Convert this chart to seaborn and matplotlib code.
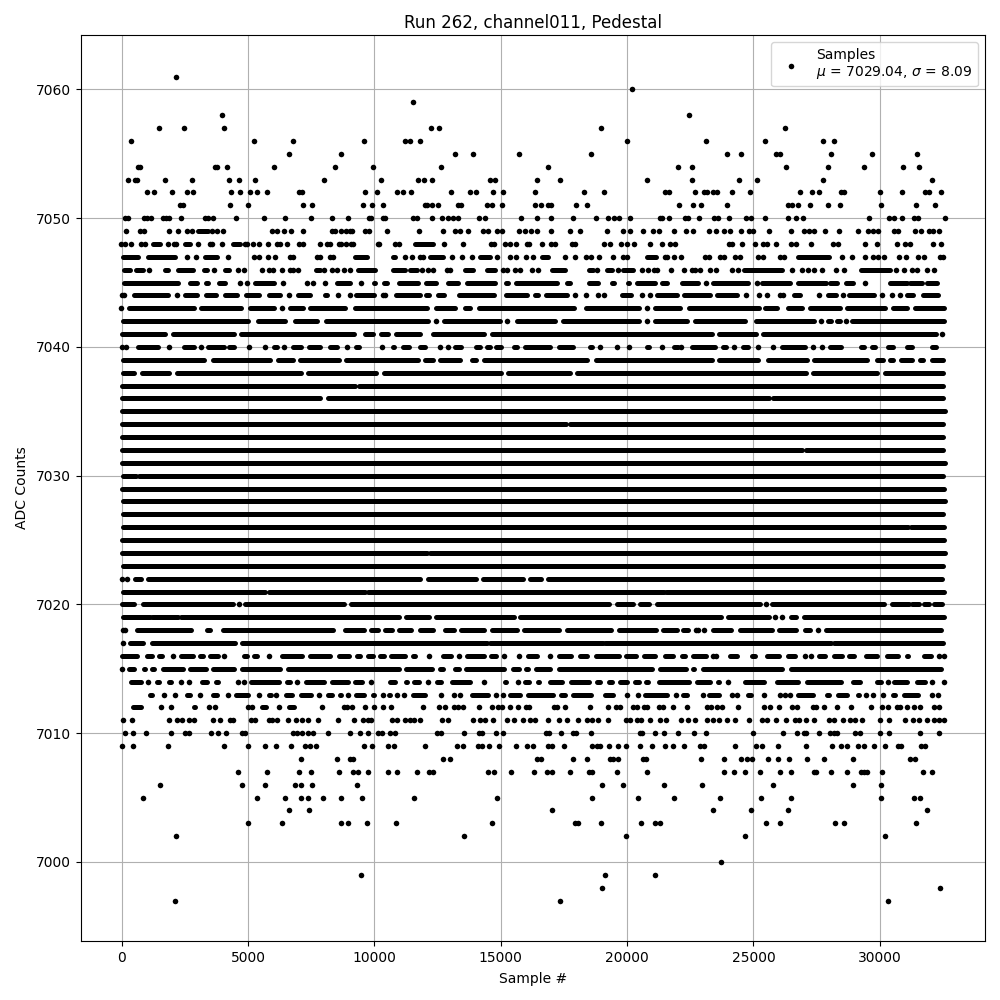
import matplotlib
matplotlib.use('Agg')
import matplotlib.pyplot as plt
import pandas as pd
import seaborn as sns

# sample numbers per ADC level
# an int is one sample, a tuple is a stretch where the dots merge into a bar
L7061 = [2191]
L7060 = [20248]
L7059 = [11576]
L7058 = [4012, 22500]
L7057 = [1518, 2508, 4092, 12289, 12606, 19021, 26268]
L7056 = [409, 5280, 6824, 9636, 11246, 11457, 11853, 20050, 23139, 25476, 27786, 28208]
L7055 = [6666, 8725, 13239, 13952, 15774, 18625, 23971, 24525, 25911, 26070, 28089, 29713, 31495]
L7054 = [686, 778, 3722, 3814, 4210, 6072, 8487, 9992, 12685, 16922, 22030, 22585, 26307, 27970,
         29396, 30940, 31574]
L7053 = [290, 554, 646, 1755, 2824, 4290, 4686, 5319, 8052, 10309, 11774, 12012, 12328, 14625, 14823,
         16486, 17397, 20842, 22585, 24446, 25159, 27786, 32089]
L7052 = [1042, 1320, 2032, 2626, 2864, 4369, 4725, 5121, 5398, 5794, 7062, 7154, 9675, 10150, 10942,
         11180, 11497, 13081, 13833, 14071, 14744, 15140, 16407, 18348, 19140, 21516, 21674, 22704,
         23060, 23179, 23416, 23575, 24169, 24882, 26862, 27337, 27614, 28485, 28604, 30030, 30901,
         31812, 31970, 32445]
L7051 = [2349, 2442, 4329, 5042, 7220, 7576, 9596, 9952, 10388, 12038, 12130, 12328, 12566, 13358, 13450,
         14480, 14678, 15100, 16407, 16618, 16922, 17014, 18018, 18466, 22070, 22624, 22941, 23971,
         26386, 26558, 26782, 27258, 27970, 28446, 30069, 31455, 32208]
L7050 = [158, 277, 923, 1042, 1214, 1676, 1795, 1914, 2389, 3326, 3458, 3656, 4567, 5676, 6507, 7537,
         8368, 9002, 9834, 9913, 10388, 10467, 11550, 11708, 12328, 12724, 12962, 13160, 13332, 14190,
         14427, 15853, 16486, 17041, 17912, 18823, 19298, 19522, 19733, 20169, 21318, 21410, 21674,
         22334, 22426, 22862, 23456, 23614, 24050, 24723, 24921, 25476, 26386, 26703, 26980, 29594,
         30386, 30584, 30901, 31376, 31534, 32604]
L7049 = [211, 765, 923, 1914, 2270, 2626, 2798, (3062, 3458), 3616, 3814, 4052, 5992, 6190, 6468, 6745,
         7220, 8368, 8487, 8725, 8923, 9081, 9160, 9675, 9834, 10546, 11814, 12764, 13226, 13424, 13754,
         14322, 14546, 14902, 15100, 15774, 16011, 16249, 16460, 17028, 17780, 18176, 19258, 19892,
         20169, 20684, 21041, 21278, 21872, 22347, 22624, 23258, 23535, 23852, 24090, 24525, 24842,
         25000, 25634, 26505, 27020, 27218, 27416, 27852, 28406, 29158, 29554, 29752, 29950, 30584,
         30742, 31416, 31653, 31970, 32128, 32366]
L7048 = [26, 158, 409, 818, 976, (1280, 1570), 1874, 2112, 2204, (2547, 2732), 3036, 3524, 3590, 4012,
         (4448, 4728), 4910, 5003, 5240, 5478, 5834, 6190, 6309, 6586, 7062, 7220, 7893, 8170, 8276,
         8646, 8725, 8923, 9121, 9200, 10164, 10230, 10863, 11022, (11642, 12368), 12804, 13556,
         14638, 14784, 15206, 15404, 15655, 16090, 16170, 16658, 17028, 17199, 17846, 17991, 19140,
         19364, 19786, 20050, 20328, 20961, 21436, 21714, 21938, 24050, 24169, 24565, 25080, 25396,
         25555, 25911, 26505, 26703, 27297, 28168, 28366, 29436, 29911, 30703, 31020, 31218, 32128,
         32445]
L7047 = [(79, 699), (1069, 2151), 2600, 2956, (3326, 3788), 4250, 5280, 5478, 5808, 6111, 6692, 6824,
         7748, 7880, 8276, 8408, (9266, 9728), (10784, 10850), 11259, 11536, 11840, 11972,
         (12236, 12764), 13120, 13516, 13899, (14216, 14612), 14902, 15417, 15655, 16038, 16328,
         (16658, 16922), 17595, 17991, 18427, 18625, 18942, 19496, 19892, 20050, (20803, 21186), 21516,
         21595, 21872, 22149, 23100, 23258, 23694, 23852, 24288, 24486, 25198, 25396, 26070, 26228,
         (26782, 28010), 28525, 28921, 29436, 29752, 29950, 30188, 30782, 31059, 31534, 31772, 32405,
         32524]
L7046 = [(145, 356), (607, 897), 1122, (1742, 1874), (2270, 2838), (3286, 3418), 3696, (4118, 4290), 4646,
         4870, 5596, 5860, 6032, 6388, 6692, 6824, 7022, (7708, 7880), 8038, 8355, 8566, 8830, 9068,
         (9398, 10058), (10758, 11246), (11444, 11708), 11932, 12170, 12368, 12922, 13028,
         (13622, 13952), (14480, 14810), 15140, 15272, 15602, 15800, 16262, 16526, (17054, 17582),
         (18546, 18704), 18862, (19232, 19430), 19694, (19892, 20288), 20644, 20882, 21080, 21212, 21753,
         22268, 22585, 22704, 22902, 23298, 23535, 24169, 24406, (24644, 26162), 26545, 26941, 27178,
         27416, 27733, 28287, 28604, (29277, 30452), 30663, 30980, 31297, 31495, 31891, 32168]
L7045 = [(145, 2257), (2758, 3009), (3379, 3432), (3880, 4105), 4699, 4976, (5306, 6058), 6428, 7352, 7616,
         8091, (8553, 9081), 9517, (10019, 10045), (10401, 10533), (11008, 11761), (12091, 12474),
         (12949, 13345), (13701, 14797), (15259, 15312), (15655, 17265), (17674, 17793), (18532, 18889),
         (19443, 19509), (20077, 20103), (20433, 21133), (21423, 21621), (22189, 22836), 23152,
         (23416, 24815), 25159, (25370, 26490), (26800, 27905), (28050, 28360), (28710, 28974), 29436,
         (30426, 31111), (31244, 31706), (31904, 32300)]
L7044 = [52, 132, (514, 1848), 2217, (2560, 3009), (3379, 3748), (4131, 4593), (4963, 5478), (5860, 6283),
         6666, (7009, 7497), (8065, 8157), 8580, 9055, (9319, 10005), 10375, 10467, (10903, 11853),
         (12091, 12210), (12553, 12804), (13371, 14784), (15233, 16077), (16381, 16500), (16843, 17661),
         17991, 18427, 18902, 19140, (19839, 20209), 20644, 20922, (21199, 21991), (22294, 23311),
         (23601, 24393), 24730, 25264, 25568, 26096, 26202, (26637, 26862), 27627, (27997, 28287), 28564,
         (28828, 29805), 30109, 30518, 30848, (31125, 31363), (31759, 32353)]
L7043 = [10, (316, 2877), (3181, 4765), (5095, 6045), 6388, (6705, 7207), (7497, 8883), (9279, 12117),
         (12487, 13239), (13609, 13833), (14176, 17925), (18427, 20499), 20803, (21133, 22136),
         (22492, 25251), (25489, 25977), (26413, 26967), (27271, 28446), (28723, 30241), (30571, 31125),
         (31429, 32564)]
L7042 = [(79, 5029), (5425, 6507), (6903, 7761), (8104, 12157), 12478, (12790, 15021), 15298, (15681, 17173),
         (17503, 20499), 20803, (21146, 22413), (22717, 24684), (25132, 27429), 27706, (27970, 28089),
         (28353, 28446), 28696, (28947, 32577)]
L7041 = [(39, 1755), (2059, 4461), (4765, 9240), (9662, 9979), (10309, 10573), (10903, 11853),
         (12355, 14361), (14705, 23403), (23680, 25146), (25423, 32247), 32511]
L7040 = [52, 198, (673, 1465), 1900, (2494, 2904), 3154, (3445, 4065), (4276, 4461), 5055, 5715, (6058, 6177),
         6454, (6811, 7128), (7444, 7893), (8263, 8553), 8960, (9319, 9424), 10349, (10771, 10797),
         (11167, 11391), (11827, 12051), 12632, 12962, (13213, 13464), (14071, 14203), (14493, 14599),
         (14863, 15048), (15549, 15681), (15985, 17001), (17331, 17899), (18559, 18651), 18968, 19641,
         20116, (20803, 20895), 21397, (21872, 22057), 22150, (22611, 23509), (23839, 23931), 24250,
         (24604, 24816), 25225, 25792, (26149, 27060), 27376, 27759, (28063, 28512), (29277, 29409),
         (29713, 29845), (30373, 30571), (31125, 31310), (32089, 32260)]
L7039 = [(79, 3300), (3656, 5913), (6217, 6798), (7101, 8619), (8923, 11761), (12025, 12355), (12645, 13411),
         (13912, 14058), (14374, 18453), (18823, 23377), (23680, 25225), (25621, 27139), (27442, 29515),
         (29937, 30175), (30439, 30571), (30861, 31323), (31627, 31759), (32102, 32551)]
L7038 = [(79, 528), (831, 1927), (2217, 7128), (7418, 10085), (10401, 15048), (15325, 17767), (18070, 27112),
         (27403, 29937), (30254, 32551)]
L7037 = [(52, 9280), (9420, 32551)]
L7036 = [(52, 7893), (8197, 25650), (25810, 32551)]
L7035 = [(52, 32604)]
L7034 = [(52, 17620), (17780, 32551)]
L7033 = [(52, 32551)]
L7032 = [(52, 26970), (27130, 32551)]
L7031 = [(52, 32604)]
L7030 = [(79, 620), (730, 32551)]
L7029 = [(52, 32577)]
L7028 = [(79, 32604)]
L7027 = [(79, 32551)]
L7026 = [(105, 31170), (31260, 32577)]
L7025 = [(52, 32577)]
L7024 = [(52, 12130), (12220, 32604)]
L7023 = [(79, 32551)]
L7022 = [39, 264, (567, 792), (1069, 11827), (12157, 14058), (14335, 15919), (16183, 16632), (16922, 32511)]
L7021 = [(79, 5700), (5850, 9670), (9800, 21500), (21590, 32577)]
L7020 = [(39, 528), (897, 4435), 4659, (4923, 8844), (9121, 19311), (19641, 20275), (20565, 20895),
         (21199, 25278), 25528, (25753, 30201), (30505, 31178), (31310, 31574), (31772, 31970),
         (32168, 32511)]
L7019 = [(105, 1140), (1230, 2270), (2400, 11022), (11286, 12183), (12460, 15549), (15800, 23733),
         (24010, 25647), 25885, 26162, (26505, 26716), (27046, 32577)]
L7018 = [79, 158, (646, 2785), (3405, 3537), (4039, 8395), (8857, 9609), (9886, 10177), (10454, 10731),
         (11008, 11484), (11827, 12355), (12817, 13200), (13477, 14388), (14691, 15681), (15958, 17358),
         (17661, 19404), (19720, 21186), (21463, 21991), (22255, 22440), 22756, 22836, 23086,
         (23443, 24129), (24499, 25779), (26056, 26730), (27073, 27271), 27574, (27891, 32445)]
L7017 = [105, (369, 897), (1227, 4527), (4791, 14500), (14600, 19080), (19170, 28120), (28240, 32551)]
L7016 = [(39, 660), (1029, 1227), (1531, 1650), 2059, (2389, 2851), (3141, 3247), (3537, 3828), 4092,
         (4870, 4989), (5266, 5385), 5860, (6375, 7167), (7497, 8289), (8619, 9015), (9358, 9451),
         (9781, 9979), (10269, 10401), (10705, 11259), (11563, 11655), 12210, (12751, 13081), 13398,
         (13714, 14361), (14638, 14850), 15166, 15760, (16117, 16473), 16999, (17344, 17833),
         (18190, 18453), (18823, 19707), (19984, 20407), (20710, 21133), (21529, 21859), (22189, 22308),
         (22624, 23139), 23416, 23562, (24103, 24393), (24961, 25080), (25555, 26043), (26413, 26664),
         27073, 27297, (27640, 27865), (28234, 28551), (28828, 29013), (29488, 29937), (30307, 30769),
         (31099, 31165), (31455, 31481), (31785, 32049), 32366, 32564]
L7015 = [52, (316, 541), (924, 963), (1227, 1320), (1663, 2481), (2745, 3366), (3643, 4488), (4791, 6309),
         (6613, 10995), (11299, 12315), (12645, 12751), (13213, 13371), (13648, 15153), (15523, 15747),
         (16051, 16117), (16447, 16999), (17331, 21027), (21331, 22347), (22624, 22677), (23047, 26175),
         (26505, 32445)]
L7014 = [(409, 792), 1082, (1425, 1518), (1927, 1980), 2389, 2706, (3207, 3405), (3748, 3828), 4646, 4870,
         (5134, 6243), (6573, 6705), 6982, (7312, 8025), (8355, 8976), (9279, 9543), 9913, (10665, 10863),
         (11299, 11325), (11602, 11814), 12170, (12526, 12685), (13107, 13807), 14375, (15219, 15259),
         15734, (16011, 16143), (16513, 16539), (16975, 17463), (17833, 18519), (18862, 18981),
         (19324, 19443), (19747, 20037), (20367, 20499), (20776, 20869), (21304, 22492), (22783, 23311),
         (23614, 23667), 24010, (24697, 25449), (25951, 26796), (27165, 28485), (28987, 29251),
         (29911, 30096), 30346, (30597, 31099), (31495, 31812), 32102, 32564]
L7013 = [(1161, 1227), 1716, 2151, (2626, 2745), 3128, (3643, 3801), 4250, (4567, 5016), 5464, (5847, 5940),
         6138, (6547, 6771), (7141, 7524), 7854, (8197, 8355), (8685, 8725), 9002, (9292, 9609),
         (9979, 10032), 10362, (10599, 10665), 10942, 11206, (11563, 12051), 12685, 13200, 13437,
         (13886, 14520), 14850, 15114, (15391, 15787), (16117, 17094), (17437, 17569), (17899, 18612),
         (19153, 19470), 20050, 20486, (20750, 21595), 21951, (22255, 22387), 23034, (23284, 23667),
         24182, 24380, (24829, 24948), 25440, 26070, 26294, 26492, (26809, 27403), (27957, 28023),
         (28393, 28749), (29171, 29211), 29488, 29752, 30162, (30544, 30637), (30993, 31548), 32102, 32326]
L7012 = [(488, 818), 1597, 1993, (2877, 2943), 3498, 3735, 5042, 5200, (5596, 5742), 6270, (6652, 6837), 7972,
         8844, 8962, 9160, 9675, 10032, 10362, 10678, 11946, 12592, 12830, 13200, 13358, 13543, 14190,
         14704, 14942, 15074, 15417, 15734, 16038, 16157, 17146, 17252, 17595, 18585, 19298, 19602, 19760,
         20261, 20420, 20710, 20842, 21278, 21450, 21832, 22387, 23192, 23350, 23588, 23786, 24433, 25436,
         25674, 26030, 26545, 26743, 27390, 27508, 27812, 28327, 28881, 29673, 30109, 30346, 30716, 30822,
         31099, 31376, 31614, 32168, 32366]
L7011 = [92, 448, 1927, 2230, 2428, 2706, 2904, 3656, 3933, 4316, 4448, 5134, 5306, 5874, 5992, 6190, 6626,
         6943, 7180, 7418, 7814, 8606, 9226, 9596, 9794, 9900, 10718, 10916, 11246, 11444, 11602, 11840,
         12724, 12962, 13952, 14216, 14414, 14744, 15272, 15576, 15932, 16196, 16394, 16896, 17358, 17648,
         18110, 18440, 18638, 18876, 19298, 19998, 20156, 20420, 20578, 20961, 21344, 21555, 22176, 22440,
         22704, 23192, 23416, 23654, 23971, 24288, 24842, 25370, 25568, 25911, 26307, 26690, 26822, 27099,
         27416, 28010, 28208, 28578, 28868, 29066, 29330, 30030, 30386, 31046, 31336, 31574, 31904, 32168,
         32366, 32564]
L7010 = [184, 488, 1003, 1993, 2547, 2706, 3577, 3841, 4158, 4778, 4910, 6824, 6982, 7180, 7418, 7616, 8210,
         9081, 9477, 9781, 10177, 10322, 10652, 10863, 12526, 12658, 13582, 14190, 14282, 14850, 15140, 16830,
         16935, 17437, 17912, 18005, 18625, 20552, 20644, 21120, 21476, 22030, 22664, 23139, 25014, 26188,
         26743, 27020, 27125, 27614, 28050, 28208, 28340, 29066, 29264, 30030, 30386, 31614, 32366]
L7009 = [52, 488, 1848, 4092, 5042, 5715, 6151, 6745, 7286, 7484, 7735, 9636, 9952, 10586, 10824, 12051, 13318,
         13556, 14150, 14308, 14586, 14982, 15655, 16090, 16328, 16896, 17054, 17556, 18664, 18862, 18968,
         19324, 19694, 19984, 20565, 21040, 21516, 21846, 22268, 22902, 23086, 24288, 25119, 25357, 25990,
         27099, 28155, 28485, 28723, 29158, 29396, 29792, 30228, 30742, 30861, 31666, 31838]
L7008 = [7141, 8566, 9068, 9200, 12764, 13041, 16486, 16618, 17912, 18466, 19364, 19496, 19694, 20658, 20776,
         22941, 23852, 24525, 24763, 24961, 25594, 25990, 26426, 27139, 27812, 28960, 31244, 31416]
L7007 = [4646, 5794, 7062, 7510, 8646, 9200, 9398, 9794, 10586, 10942, 11734, 12210, 12342, 14546, 14784, 15457,
         16368, 16882, 17080, 17793, 18532, 18664, 19654, 20842, 23852, 24248, 24684, 25278, 26070, 26505, 27416,
         27495, 28089, 28723, 29277, 29396, 29515, 30109, 31732, 32089]
L7006 = [1557, 4804, 5715, 6903, 7114, 7576, 9358, 19060, 19892, 21476, 22981, 25792, 28960, 30069]
L7005 = [884, 5398, 6507, 7141, 7418, 8012, 8725, 9556, 11616, 14902, 18664, 20486, 21872, 23694, 25317, 26505,
         30069, 31376, 31614]
L7004 = [6666, 7458, 17080, 23416, 24921, 26386, 31891]
L7003 = [5042, 6388, 8725, 9002, 9754, 10903, 14704, 17978, 18083, 19021, 20605, 21120, 21318, 25515, 26070,
         28248, 28604, 31455]
L7002 = [2191, 13596, 20011, 24684, 30228]
L7000 = [23733]
L6999 = [9517, 19179, 21120]
L6998 = [19060, 32406]
L6997 = [2151, 17397, 30346]

rows = [(7061, L7061), (7060, L7060), (7059, L7059), (7058, L7058), (7057, L7057), (7056, L7056),
        (7055, L7055), (7054, L7054), (7053, L7053), (7052, L7052), (7051, L7051), (7050, L7050),
        (7049, L7049), (7048, L7048), (7047, L7047), (7046, L7046), (7045, L7045), (7044, L7044),
        (7043, L7043), (7042, L7042), (7041, L7041), (7040, L7040), (7039, L7039), (7038, L7038),
        (7037, L7037), (7036, L7036), (7035, L7035), (7034, L7034), (7033, L7033), (7032, L7032),
        (7031, L7031), (7030, L7030), (7029, L7029), (7028, L7028), (7027, L7027), (7026, L7026),
        (7025, L7025), (7024, L7024), (7023, L7023), (7022, L7022), (7021, L7021), (7020, L7020),
        (7019, L7019), (7018, L7018), (7017, L7017), (7016, L7016), (7015, L7015), (7014, L7014),
        (7013, L7013), (7012, L7012), (7011, L7011), (7010, L7010), (7009, L7009), (7008, L7008),
        (7007, L7007), (7006, L7006), (7005, L7005), (7004, L7004), (7003, L7003), (7002, L7002),
        (7000, L7000), (6999, L6999), (6998, L6998), (6997, L6997)]

# my readings came out a little to the right of the real ticks
read_bias = 35

# split into single dots and merged stretches
dots = []
bars = []
for level, values in rows:
    for v in values:
        if isinstance(v, tuple):
            bars.append((level, v[0] - read_bias, v[1] - read_bias))
        else:
            dots.append((level, v - read_bias))
dots = pd.DataFrame(dots, columns=['adc', 'sample'])
bars = pd.DataFrame(bars, columns=['adc', 'start', 'end'])

fig, ax = plt.subplots(figsize=(10, 10), dpi=100)
sns.scatterplot(data=dots, x='sample', y='adc', color='k', marker='o', s=16, linewidth=0, ax=ax,
                label='Samples\n$\\mu$ = 7029.04, $\\sigma$ = 8.09')
ax.hlines(bars['adc'], bars['start'], bars['end'], color='k', linewidth=3.6, capstyle='round')

ax.set_xlim(-1610, 34163)
ax.set_ylim(6993.86, 7064.23)
ax.grid(True)
ax.set_axisbelow(True)
ax.set_title('Run 262, channel011, Pedestal', pad=5)
ax.set_xlabel('Sample #', labelpad=5)
ax.set_ylabel('ADC Counts', labelpad=5.4)
ax.legend(loc='upper right')
fig.subplots_adjust(left=0.081, right=0.985, top=0.965, bottom=0.059)
fig.savefig('out.png', dpi=100)
